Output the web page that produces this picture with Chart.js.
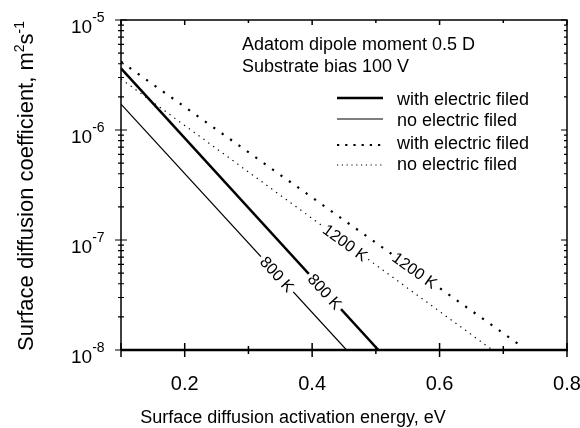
<!DOCTYPE html>
<html>
<head>
<meta charset="utf-8">
<script src="https://cdn.jsdelivr.net/npm/chart.js@4.4.1/dist/chart.umd.min.js"></script>
<style>
  html, body { margin: 0; padding: 0; background: #fff; }
</style>
</head>
<body>
<canvas id="myChart" width="580" height="428"></canvas>
<script>
const FONT = '"Liberation Sans", Arial, Helvetica, sans-serif';

// end points of each line: activation energy (eV) and diffusion coefficient (m2/s)
const energyWithField800 = [0.1, 0.504];
const coeffWithField800 = [3.64e-6, 1e-8];
const energyNoField800 = [0.1, 0.454];
const coeffNoField800 = [1.72e-6, 1e-8];
const energyWithField1200 = [0.1, 0.724];
const coeffWithField1200 = [4.18e-6, 1.13e-8];
const energyNoField1200 = [0.1, 0.683];
const coeffNoField1200 = [2.91e-6, 1e-8];

const seriesLabels = ["with electric filed", "no electric filed", "with electric filed", "no electric filed"];
const tempLabels = ["800 K", "800 K", "1200 K", "1200 K"];
// energy where each temperature label sits on its line
const tempLabelAt = [0.42, 0.345, 0.561, 0.452];

const xTicks = [0.1, 0.2, 0.3, 0.4, 0.5, 0.6, 0.7, 0.8];
const xTickLabels = ["", "0.2", "", "0.4", "", "0.6", "", "0.8"];
const yDecades = [1e-8, 1e-7, 1e-6, 1e-5];
const yExponents = ["-8", "-7", "-6", "-5"];

const infoLines = ["Adatom dipole moment 0.5 D", "Substrate bias 100 V"];

function toPoints(xs, ys) {
  return xs.map((v, i) => ({ x: v, y: ys[i] }));
}

// coefficient on a line at energy e (straight line in log space)
function valueAt(xs, ys, e) {
  const t = (e - xs[0]) / (xs[1] - xs[0]);
  const l = Math.log10(ys[0]) + t * (Math.log10(ys[1]) - Math.log10(ys[0]));
  return Math.pow(10, l);
}

const decorations = {
  id: "decorations",
  afterDatasetsDraw(chart) {
    const { ctx, scales: { x, y } } = chart;
    ctx.save();
    ctx.font = "16px " + FONT;
    ctx.textAlign = "center";
    ctx.textBaseline = "middle";
    chart.data.datasets.forEach((ds, i) => {
      const d = ds.data;
      const e = tempLabelAt[i];
      const xs = d.map((p) => p.x);
      const ys = d.map((p) => p.y);
      const px = x.getPixelForValue(e);
      const py = y.getPixelForValue(valueAt(xs, ys, e));
      const x0 = x.getPixelForValue(xs[0]), y0 = y.getPixelForValue(ys[0]);
      const x1 = x.getPixelForValue(xs[1]), y1 = y.getPixelForValue(ys[1]);
      const ang = Math.atan2(y1 - y0, x1 - x0);
      const w = ctx.measureText(tempLabels[i]).width;
      ctx.save();
      ctx.translate(px, py);
      ctx.rotate(ang);
      ctx.fillStyle = "#fff";
      ctx.fillRect(-w / 2 - 3, -8, w + 6, 16);
      ctx.fillStyle = "#000";
      ctx.fillText(tempLabels[i], 0, 1);
      ctx.restore();
    });
    ctx.restore();
  },
  afterDraw(chart) {
    const { ctx, chartArea: a, scales: { x, y } } = chart;
    ctx.save();
    ctx.strokeStyle = "#000";
    ctx.fillStyle = "#000";

    // frame
    ctx.lineWidth = 1.5;
    ctx.beginPath();
    ctx.moveTo(a.left, a.bottom);
    ctx.lineTo(a.left, a.top);
    ctx.lineTo(a.right, a.top);
    ctx.lineTo(a.right, a.bottom);
    ctx.stroke();
    ctx.lineWidth = 2.5;
    ctx.beginPath();
    ctx.moveTo(a.left, a.bottom);
    ctx.lineTo(a.right + 1, a.bottom);
    ctx.stroke();

    // x ticks
    ctx.lineWidth = 1.5;
    xTicks.forEach((v, i) => {
      const px = x.getPixelForValue(v);
      const major = xTickLabels[i] !== "" || i === 0;
      const b = major ? 7 : 4;
      const t = major ? 5 : 3;
      ctx.beginPath();
      ctx.moveTo(px, a.bottom - b);
      ctx.lineTo(px, a.bottom + b);
      ctx.moveTo(px, a.top);
      ctx.lineTo(px, a.top + t);
      ctx.stroke();
    });

    // y ticks
    yDecades.forEach((dec) => {
      for (let m = 1; m <= 9; m++) {
        const v = dec * m;
        if (v > y.max * 1.0001) break;
        const py = y.getPixelForValue(v);
        const len = m === 1 ? 6 : 3;
        ctx.lineWidth = 1.2;
        ctx.beginPath();
        ctx.moveTo(a.left - len, py);
        ctx.lineTo(a.left + len, py);
        ctx.moveTo(a.right - len, py);
        ctx.lineTo(a.right, py);
        ctx.stroke();
      }
    });

    // x tick labels
    ctx.font = "20px " + FONT;
    ctx.textAlign = "center";
    ctx.textBaseline = "alphabetic";
    xTicks.forEach((v, i) => {
      if (xTickLabels[i]) ctx.fillText(xTickLabels[i], x.getPixelForValue(v), 390);
    });

    // y tick labels 10^n
    yDecades.forEach((dec, i) => {
      const py = y.getPixelForValue(dec);
      ctx.textAlign = "left";
      ctx.font = "19px " + FONT;
      ctx.fillText("10", 71, py + 13);
      const w = ctx.measureText("10").width;
      ctx.font = "14px " + FONT;
      ctx.fillText(yExponents[i], 71 + w, py + 2);
    });

    // x title
    ctx.font = "18px " + FONT;
    ctx.textAlign = "center";
    ctx.fillText("Surface diffusion activation energy, eV", 293, 423);

    // y title with superscripts
    const parts = [
      ["Surface diffusion coefficient, m", 22, 0],
      ["2", 14, -9],
      ["s", 22, 0],
      ["-1", 14, -9],
    ];
    let total = 0;
    parts.forEach((p) => {
      ctx.font = p[1] + "px " + FONT;
      total += ctx.measureText(p[0]).width;
    });
    ctx.save();
    ctx.translate(33, 186 + total / 2);
    ctx.rotate(-Math.PI / 2);
    ctx.textAlign = "left";
    let off = 0;
    parts.forEach((p) => {
      ctx.font = p[1] + "px " + FONT;
      ctx.fillText(p[0], off, p[2]);
      off += ctx.measureText(p[0]).width;
    });
    ctx.restore();

    // info text
    ctx.font = "18px " + FONT;
    ctx.textAlign = "left";
    ctx.fillText(infoLines[0], 242, 50);
    ctx.fillText(infoLines[1], 242, 72);

    // legend
    const rowLine = [98, 119, 145, 165];
    const rowText = [105, 125.5, 148.5, 169.5];
    chart.data.datasets.forEach((ds, i) => {
      ctx.save();
      ctx.lineWidth = ds.borderWidth;
      ctx.setLineDash(ds.legendDash || []);
      ctx.beginPath();
      ctx.moveTo(337, rowLine[i]);
      ctx.lineTo(383, rowLine[i]);
      ctx.stroke();
      ctx.restore();
      ctx.fillText(seriesLabels[i], 397, rowText[i]);
    });

    ctx.restore();
  },
};

const ctx = document.getElementById("myChart").getContext("2d");
new Chart(ctx, {
  type: "scatter",
  data: {
    datasets: [
      {
        label: seriesLabels[0],
        data: toPoints(energyWithField800, coeffWithField800),
        borderWidth: 2.5,
        borderDash: [],
      },
      {
        label: seriesLabels[1],
        data: toPoints(energyNoField800, coeffNoField800),
        borderWidth: 1.2,
        borderDash: [],
      },
      {
        label: seriesLabels[2],
        data: toPoints(energyWithField1200, coeffWithField1200),
        borderWidth: 2.2,
        borderDash: [2.2, 8.1],
        legendDash: [2.2, 6],
      },
      {
        label: seriesLabels[3],
        data: toPoints(energyNoField1200, coeffNoField1200),
        borderWidth: 1.2,
        borderDash: [1.3, 4.7],
        legendDash: [1.2, 3.6],
      },
    ].map((d) => ({
      ...d,
      showLine: true,
      pointRadius: 0,
      borderColor: "#000",
      backgroundColor: "#000",
      fill: false,
      tension: 0,
    })),
  },
  options: {
    responsive: false,
    animation: false,
    layout: { padding: { left: 0, right: 13, top: 20, bottom: 0 } },
    plugins: { legend: { display: false }, tooltip: { enabled: false } },
    scales: {
      x: {
        type: "linear",
        min: 0.1,
        max: 0.8,
        grid: { display: false },
        border: { display: false },
        ticks: { display: false },
        afterFit: (s) => { s.height = 78; },
      },
      y: {
        type: "logarithmic",
        min: 1e-8,
        max: 1e-5,
        grid: { display: false },
        border: { display: false },
        ticks: { display: false },
        afterFit: (s) => { s.width = 121; },
      },
    },
  },
  plugins: [decorations],
});
</script>
</body>
</html>
